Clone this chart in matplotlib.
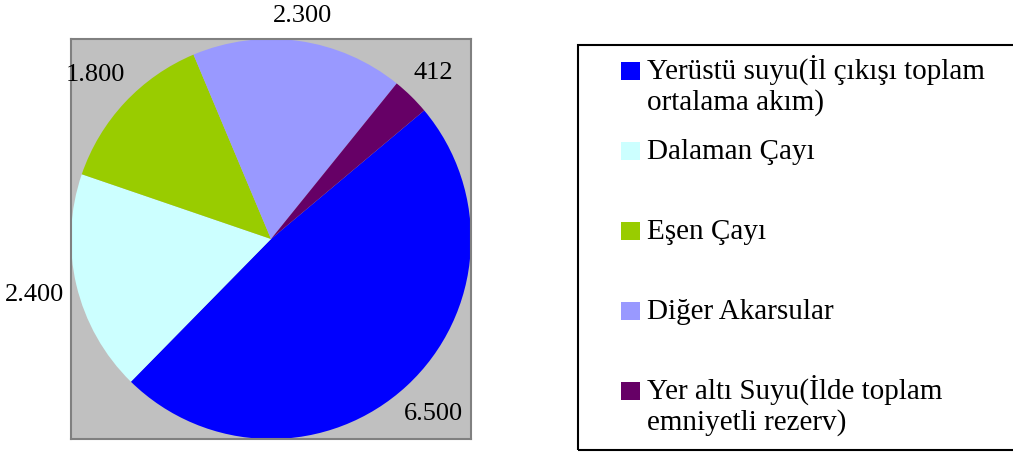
import numpy as np
import matplotlib
matplotlib.use("Agg")
import matplotlib.pyplot as plt
from matplotlib.patches import Rectangle

plt.rcParams['font.family'] = ['Liberation Serif', 'DejaVu Serif']

# data
categories = ["Yerüstü suyu(İl çıkışı toplam\nortalama akım)",
              "Dalaman Çayı",
              "Eşen Çayı",
              "Diğer Akarsular",
              "Yer altı Suyu(İlde toplam\nemniyetli rezerv)"]
values = [6500, 2400, 1800, 2300, 412]
colors = ["#0000FF", "#CCFFFF", "#99CC00", "#9999FF", "#660066"]
value_labels = [f"{v:,}".replace(",", ".") for v in values]

W, H = 1013, 455
fig = plt.figure(figsize=(W / 100, H / 100), dpi=100)

# pie plot area (gray square)
ax = fig.add_axes([71 / W, (H - 439) / H, 400 / W, 400 / H])
wedges, texts = ax.pie(values, colors=colors, startangle=40, counterclock=False,
                       labels=value_labels, labeldistance=1.2, frame=True,
                       textprops=dict(fontsize=19, ha="center", va="center"))
ax.set_xlim(-1.0, 1.0)
ax.set_ylim(-1.0, 1.0)
ax.set_aspect("auto")
ax.set_xticks([])
ax.set_yticks([])
ax.set_facecolor("#C0C0C0")
for sp in ax.spines.values():
    sp.set_color("#808080")
    sp.set_linewidth(1.5)

# push each value label just outside the circle, like Excel does
renderer = fig.canvas.get_renderer()
px_per_unit = 200.0
gap = 13
for w, t in zip(wedges, texts):
    theta = np.deg2rad((w.theta1 + w.theta2) / 2)
    bb = t.get_window_extent(renderer)
    tw, th = bb.width, bb.height * 0.75
    d = 199.5 + gap + abs(np.cos(theta)) * tw / 2 + abs(np.sin(theta)) * th / 2
    t.set_position((d / px_per_unit * np.cos(theta), d / px_per_unit * np.sin(theta)))

# legend box drawn by hand (Excel style, handle on first line)
fig.patches.append(Rectangle((578 / W, (H - 450) / H), 0.6, 405 / H,
                             transform=fig.transFigure, fill=False,
                             edgecolor="black", linewidth=1.5))
for i, (lab, c) in enumerate(zip(categories, colors)):
    base = 79 + 80 * i
    fig.patches.append(Rectangle((621 / W, (H - base - 1) / H), 19 / W, 18 / H,
                                 transform=fig.transFigure, facecolor=c,
                                 edgecolor="none"))
    for j, line in enumerate(lab.split("\n")):
        fig.text(647 / W, (H - base - 31 * j) / H, line, fontsize=21,
                 va="baseline", ha="left")

fig.savefig("out.png", dpi=100)
